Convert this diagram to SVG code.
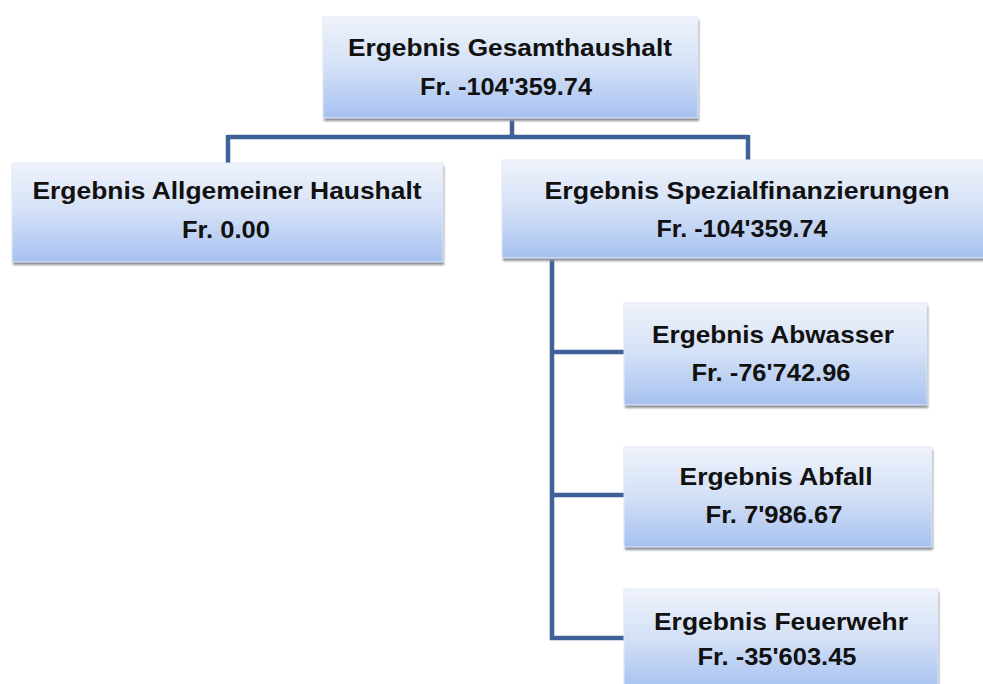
<svg xmlns="http://www.w3.org/2000/svg" width="983" height="684" viewBox="0 0 983 684">
<defs>
<linearGradient id="g" x1="0" y1="0" x2="0" y2="1">
<stop offset="0" stop-color="#eff3fb"/>
<stop offset="0.5" stop-color="#d3e0f6"/>
<stop offset="1" stop-color="#a6c1f0"/>
</linearGradient>
<filter id="sh" x="-5%" y="-5%" width="110%" height="120%">
<feGaussianBlur stdDeviation="1"/>
</filter>
</defs>
<style>
.box{fill:url(#g);stroke:#e4eaf5;stroke-width:1}
.shadow{fill:#8c9099;filter:url(#sh)}
.t{font-family:"Liberation Sans",Arial,sans-serif;font-weight:bold;font-size:24px;fill:#111;text-anchor:middle}
.c{fill:none;stroke:#3f6197;stroke-width:4.5}
</style>
<rect width="983" height="684" fill="#ffffff"/>
<g id="connectors">
<path class="c" d="M512 118 V137 M228 137 H748 M228 135 V163 M748 135 V160"/>
<path class="c" d="M552 258 V640 M550 352 H624 M550 495 H624 M550 638 H624"/>
</g>
<g id="n_gesamt">
<rect class="shadow" x="324" y="20" width="375" height="101"/>
<rect class="box" x="323" y="17" width="375" height="101"/>
<text class="t" x="510" y="56" textLength="324" lengthAdjust="spacingAndGlyphs">Ergebnis Gesamthaushalt</text>
<text class="t" x="506" y="95" textLength="172" lengthAdjust="spacingAndGlyphs">Fr. -104'359.74</text>
</g>
<g id="n_allgemein">
<rect class="shadow" x="13" y="166" width="431" height="99"/>
<rect class="box" x="12" y="163" width="431" height="99"/>
<text class="t" x="227" y="199" textLength="389" lengthAdjust="spacingAndGlyphs">Ergebnis Allgemeiner Haushalt</text>
<text class="t" x="226" y="238" textLength="88" lengthAdjust="spacingAndGlyphs">Fr. 0.00</text>
</g>
<g id="n_spezial">
<rect class="shadow" x="503" y="163" width="490" height="98"/>
<rect class="box" x="502" y="160" width="490" height="98"/>
<text class="t" x="747" y="199" textLength="405" lengthAdjust="spacingAndGlyphs">Ergebnis Spezialfinanzierungen</text>
<text class="t" x="742" y="237" textLength="171" lengthAdjust="spacingAndGlyphs">Fr. -104'359.74</text>
</g>
<g id="n_abwasser">
<rect class="shadow" x="625" y="306" width="303" height="102"/>
<rect class="box" x="624" y="303" width="303" height="102"/>
<text class="t" x="773" y="343" textLength="242" lengthAdjust="spacingAndGlyphs">Ergebnis Abwasser</text>
<text class="t" x="771" y="381" textLength="159" lengthAdjust="spacingAndGlyphs">Fr. -76'742.96</text>
</g>
<g id="n_abfall">
<rect class="shadow" x="625" y="450" width="308" height="100"/>
<rect class="box" x="624" y="447" width="308" height="100"/>
<text class="t" x="776" y="485" textLength="193" lengthAdjust="spacingAndGlyphs">Ergebnis Abfall</text>
<text class="t" x="774" y="523" textLength="137" lengthAdjust="spacingAndGlyphs">Fr. 7'986.67</text>
</g>
<g id="n_feuerwehr">
<rect class="shadow" x="625" y="592" width="314" height="100"/>
<rect class="box" x="624" y="589" width="314" height="100"/>
<text class="t" x="781" y="630" textLength="254" lengthAdjust="spacingAndGlyphs">Ergebnis Feuerwehr</text>
<text class="t" x="777" y="665" textLength="159" lengthAdjust="spacingAndGlyphs">Fr. -35'603.45</text>
</g>
</svg>
